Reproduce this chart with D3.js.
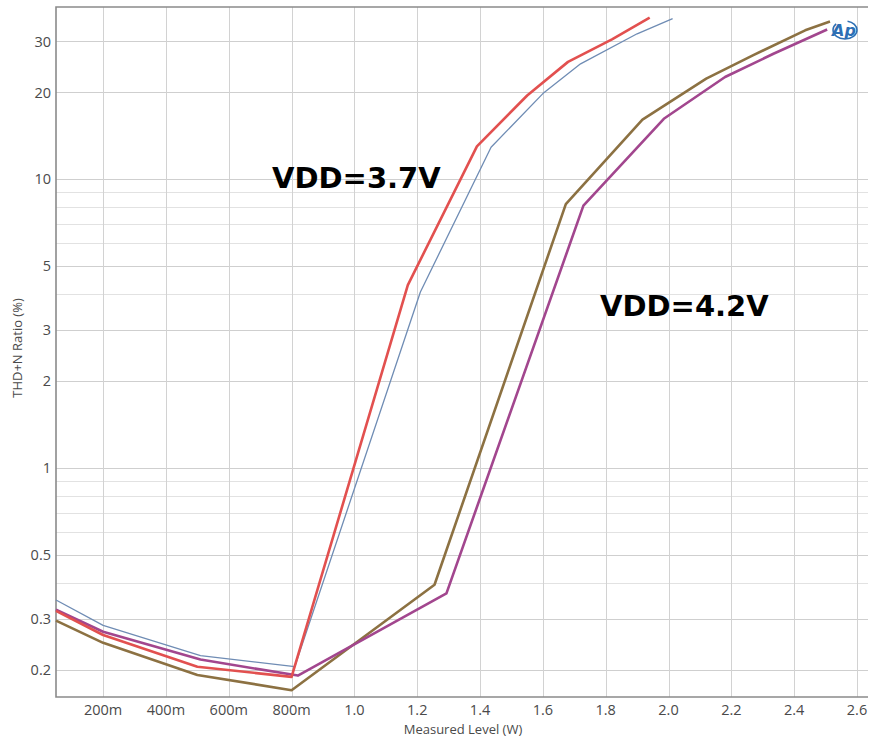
<!DOCTYPE html>
<html>
  <head>
    <script src="https://d3js.org/d3.v7.min.js"></script>
    <style>
      body,
      html {
        margin: 0;
        padding: 0;
        background: #ffffff;
        overflow: hidden;
      }
      text {
        font-family: "Open Sans", sans-serif;
      }
    </style>
    <title>THD+N vs Level</title>
  </head>

  <body>
    <svg id="chart" width="869" height="738"></svg>

    <script>
      // x = measured level (W), y = THD+N ratio (%)
      var xTicks = [0.2, 0.4, 0.6, 0.8, 1.0, 1.2, 1.4, 1.6, 1.8, 2.0, 2.2, 2.4, 2.6];
      var xTickLabels = ["200m", "400m", "600m", "800m", "1.0", "1.2", "1.4", "1.6", "1.8", "2.0", "2.2", "2.4", "2.6"];
      var yTicks = [0.2, 0.3, 0.5, 1, 2, 3, 5, 10, 20, 30];
      var yTickLabels = ["0.2", "0.3", "0.5", "1", "2", "3", "5", "10", "20", "30"];

      // VDD=3.7V, channel A (red)
      var redX = [0.05, 0.2, 0.5, 0.8, 1.17, 1.39, 1.55, 1.68, 1.82, 1.94];
      var redY = [0.32, 0.264, 0.205, 0.189, 4.3, 13.0, 19.5, 25.5, 30.5, 36.3];
      // VDD=3.7V, channel B (thin blue)
      var blueX = [0.05, 0.2, 0.51, 0.81, 1.21, 1.435, 1.6, 1.72, 1.9, 2.013];
      var blueY = [0.349, 0.285, 0.224, 0.205, 4.07, 12.9, 19.8, 25.1, 31.9, 36.0];
      // VDD=4.2V, channel A (brown)
      var brownX = [0.05, 0.2, 0.5, 0.8, 1.255, 1.673, 1.917, 2.12, 2.27, 2.435, 2.514];
      var brownY = [0.296, 0.248, 0.192, 0.17, 0.394, 8.2, 16.1, 22.3, 26.9, 32.8, 35.2];
      // VDD=4.2V, channel B (purple)
      var purpleX = [0.05, 0.2, 0.51, 0.82, 1.293, 1.729, 1.985, 2.18, 2.334, 2.505];
      var purpleY = [0.323, 0.271, 0.217, 0.191, 0.368, 8.1, 16.2, 22.6, 27.2, 33.0];

      var series = [
        { x: blueX, y: blueY, color: "#6f8cb4", width: 1.3 },
        { x: brownX, y: brownY, color: "#8c7142", width: 2.6 },
        { x: purpleX, y: purpleY, color: "#a2468e", width: 2.6 },
        { x: redX, y: redY, color: "#e2504f", width: 2.6 },
      ];

      var plotLeft = 56,
        plotRight = 868,
        plotTop = 7,
        plotBottom = 697;

      var svg = d3.select("#chart");

      var xScale = d3.scaleLinear().domain([0.05, 2.635]).range([plotLeft, plotRight]);
      var yScale = d3.scaleLog().domain([0.161, 39.5]).range([plotBottom, plotTop]);

      // grid: every 1..9 multiple on the log axis
      var minorY = [];
      [0.1, 1, 10].forEach(function (dec) {
        for (var k = 1; k <= 9; k++) {
          var v = +(dec * k).toFixed(3);
          if (v >= 0.17 && v <= 39) minorY.push(v);
        }
      });

      svg
        .append("g")
        .selectAll("line")
        .data(minorY)
        .enter()
        .append("line")
        .attr("x1", plotLeft)
        .attr("x2", plotRight)
        .attr("y1", function (d) {
          return Math.round(yScale(d)) + 0.5;
        })
        .attr("y2", function (d) {
          return Math.round(yScale(d)) + 0.5;
        })
        .style("stroke", function (d) {
          return yTicks.indexOf(d) >= 0 ? "#cfcfcf" : "#e2e2e2";
        })
        .style("stroke-width", "1px");

      svg
        .append("g")
        .selectAll("line")
        .data(xTicks)
        .enter()
        .append("line")
        .attr("x1", function (d) {
          return Math.round(xScale(d)) + 0.5;
        })
        .attr("x2", function (d) {
          return Math.round(xScale(d)) + 0.5;
        })
        .attr("y1", plotTop)
        .attr("y2", plotBottom)
        .style("stroke", "#d2d2d2")
        .style("stroke-width", "1px");

      // frame (left, top, bottom)
      svg
        .append("path")
        .attr("d", "M" + plotRight + "," + plotTop + "H" + plotLeft + "V" + plotBottom + "H" + plotRight)
        .style("fill", "none")
        .style("stroke", "#8a8a8a")
        .style("stroke-width", "1.6px");

      // tick labels
      svg
        .append("g")
        .selectAll("text")
        .data(yTicks)
        .enter()
        .append("text")
        .attr("x", 51)
        .attr("y", function (d) {
          return yScale(d);
        })
        .attr("dy", "0.36em")
        .attr("text-anchor", "end")
        .style("font-size", "14.5px")
        .style("fill", "#4a4a4a")
        .text(function (d, i) {
          return yTickLabels[i];
        });

      svg
        .append("g")
        .selectAll("text")
        .data(xTicks)
        .enter()
        .append("text")
        .attr("x", function (d) {
          return xScale(d);
        })
        .attr("y", 715)
        .attr("text-anchor", "middle")
        .style("font-size", "14.5px")
        .style("fill", "#4a4a4a")
        .text(function (d, i) {
          return xTickLabels[i];
        });

      // axis titles
      svg
        .append("text")
        .attr("x", 463)
        .attr("y", 734)
        .attr("text-anchor", "middle")
        .style("font-size", "13px")
        .style("fill", "#4a4a4a")
        .text("Measured Level (W)");

      svg
        .append("text")
        .attr("transform", "translate(22,348) rotate(-90)")
        .attr("text-anchor", "middle")
        .style("font-size", "13px")
        .style("fill", "#4a4a4a")
        .text("THD+N Ratio (%)");

      // curves
      var line = d3
        .line()
        .x(function (d) {
          return xScale(d[0]);
        })
        .y(function (d) {
          return yScale(d[1]);
        });

      series.forEach(function (s) {
        svg
          .append("path")
          .datum(d3.zip(s.x, s.y))
          .attr("d", line)
          .style("fill", "none")
          .style("stroke", s.color)
          .style("stroke-width", s.width + "px")
          .style("stroke-linejoin", "round");
      });

      // annotations
      svg
        .append("text")
        .attr("x", 272)
        .attr("y", 188)
        .style("font-family", "DejaVu Sans")
        .style("font-weight", "bold")
        .style("font-size", "29px")
        .style("fill", "#000")
        .text("VDD=3.7V");

      svg
        .append("text")
        .attr("x", 600)
        .attr("y", 316)
        .style("font-family", "DejaVu Sans")
        .style("font-weight", "bold")
        .style("font-size", "29px")
        .style("fill", "#000")
        .text("VDD=4.2V");

      // Ap logo
      var logo = svg.append("g").attr("transform", "translate(845,30)");
      logo
        .append("ellipse")
        .attr("rx", 12)
        .attr("ry", 9)
        .style("fill", "none")
        .style("stroke", "#2d6fb4")
        .style("stroke-width", "1.5px")
        .style("stroke-dasharray", "40 12");
      logo
        .append("text")
        .attr("x", -1)
        .attr("y", 6)
        .attr("text-anchor", "middle")
        .style("font-family", "DejaVu Sans")
        .style("font-style", "italic")
        .style("font-weight", "bold")
        .style("font-size", "16px")
        .style("fill", "#2d6fb4")
        .text("Ap");
    </script>
  </body>
</html>
